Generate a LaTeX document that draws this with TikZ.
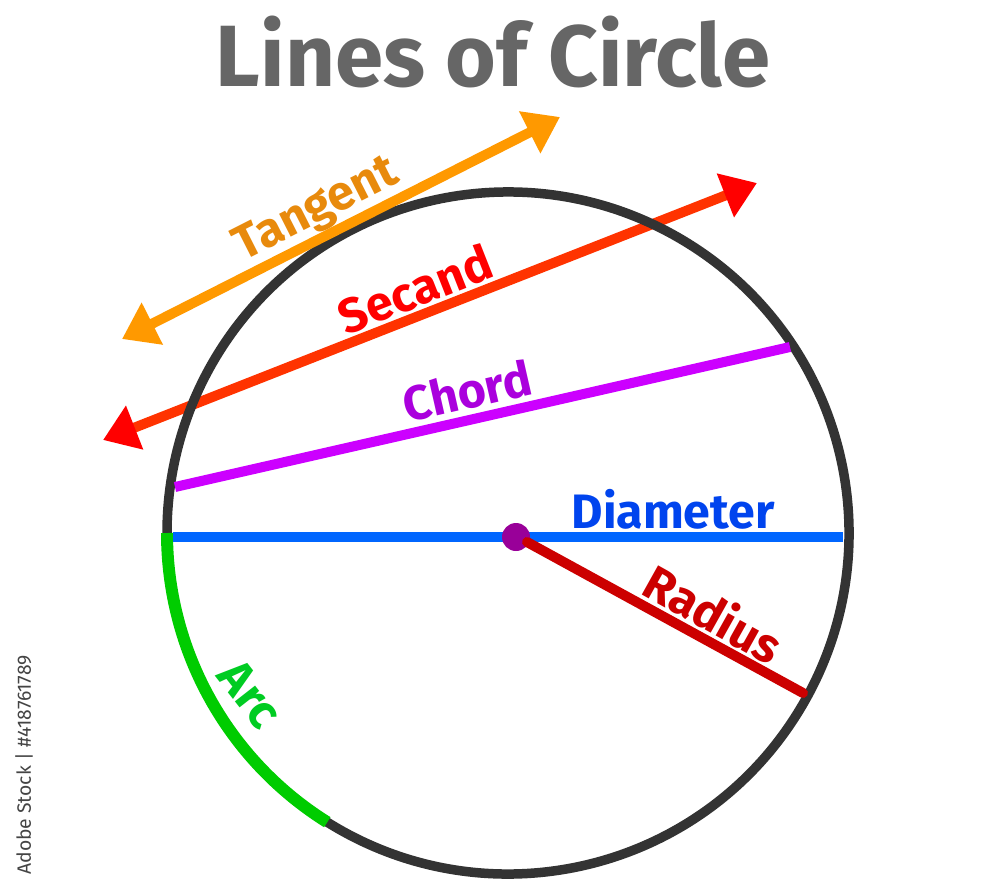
\documentclass[tikz,border=0pt]{standalone}
\usepackage{fontspec}
\setmainfont{Fira Sans}
\usetikzlibrary{arrows.meta}
\definecolor{circgray}{HTML}{333333}
\definecolor{titlegray}{HTML}{666666}
\definecolor{tanline}{HTML}{FF9900}
\definecolor{tantext}{HTML}{E88A0C}
\definecolor{secline}{HTML}{FF3300}
\definecolor{sectip}{HTML}{FF0000}
\definecolor{sectext}{HTML}{FF0000}
\definecolor{chordline}{HTML}{CC00FF}
\definecolor{chordtext}{HTML}{AA00DD}
\definecolor{diamline}{HTML}{0066FF}
\definecolor{diamtext}{HTML}{0044EE}
\definecolor{radline}{HTML}{CC0000}
\definecolor{dotcol}{HTML}{990099}
\definecolor{arcgreen}{HTML}{00CC00}
\definecolor{arctext}{HTML}{00CC22}
\definecolor{wmgray}{HTML}{444444}
\tikzset{
  seg/.style={line width=0.2cm},
  circstyle/.style={line width=0.19cm, draw=circgray, line cap=round},
  arcstyle/.style={line width=0.24cm, draw=arcgreen},
  lbl/.style={font=\bfseries\fontsize{27.5}{27.5}\selectfont, inner sep=0pt},
  twoway/.style={{Triangle[length=0.68cm,width=0.9cm]}-{Triangle[length=0.68cm,width=0.9cm]}},
  twowayred/.style={{Triangle[length=0.68cm,width=0.9cm,color=sectip]}-{Triangle[length=0.68cm,width=0.9cm,color=sectip]}},
}
\begin{document}
\begin{tikzpicture}[x=0.02cm,y=0.02cm]
\useasboundingbox (0,0) rectangle (1000,-889);
\fill[white] (0,0) rectangle (1000,-889);
% key points
\coordinate (O) at (508,-533);
\coordinate (S1) at (103,-440);
\coordinate (S2) at (757,-183);
\coordinate (T1) at (122,-339);
\coordinate (T2) at (560,-117);
\coordinate (C1) at (175,-487);
\coordinate (C2) at (790,-347);
\coordinate (D1) at (173,-537);
\coordinate (D2) at (843,-537);
\coordinate (Cen) at (516,-537);
\coordinate (R1) at (527,-542);
\coordinate (R2) at (803,-693);
% title
\node[font=\bfseries\fontsize{49.5}{49.5}\selectfont, text=titlegray, inner sep=0pt] (title) at (493,-52) {Lines of Circle};
% secant (below circle)
\draw[seg, draw=secline, twowayred] (S1) -- (S2);
% circle
\draw[circstyle] (O) ++(238:341) arc[start angle=238, end angle=540, radius=341];
\draw[arcstyle] (O) ++(180:341) arc[start angle=180, end angle=238, radius=341];
% tangent
\draw[seg, draw=tanline, twoway] (T1) -- (T2);
% chord, diameter
\draw[seg, draw=chordline] (C1) -- (C2);
\draw[seg, draw=diamline] (D1) -- (D2);
% centre dot and radius
\fill[dotcol] (Cen) circle[radius=14];
\draw[seg, draw=radline, line cap=round] (R1) -- (R2);
% labels
\node[lbl, text=tantext, rotate=26.9] (ltan) at (317,-211) {Tangent};
\node[lbl, text=sectext, rotate=21.5] (lsec) at (415,-289) {Secand};
\node[lbl, text=chordtext, rotate=12.8] (lchord) at (467,-391) {Chord};
\node[lbl, text=diamtext] (ldiam) at (673,-509) {Diameter};
\node[lbl, text=radline, rotate=-29.2] (lrad) at (714,-613) {Radius};
\node[lbl, text=arctext, rotate=-52] (larc) at (250,-694) {Arc};
% side text
\node[font=\fontsize{11}{11}\selectfont, text=wmgray, rotate=90, inner sep=0pt] (wm) at (24,-765) {Adobe Stock | \#418761789};
\end{tikzpicture}
\end{document}
